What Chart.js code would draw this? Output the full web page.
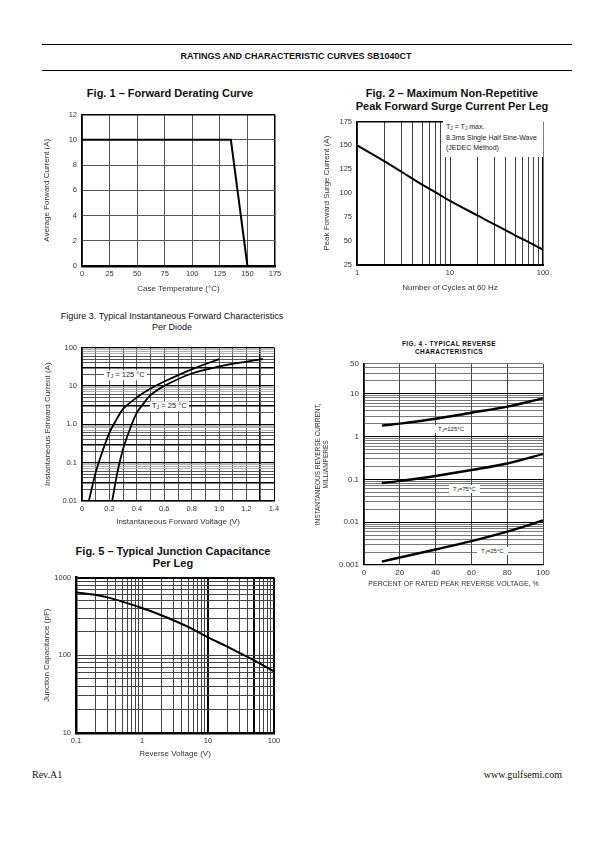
<!DOCTYPE html>
<html>
<head>
<meta charset="utf-8">
<script src="https://cdn.jsdelivr.net/npm/chart.js@4.4.1/dist/chart.umd.min.js"></script>
<style>
body { margin:0; width:595px; height:842px; background:#fff; position:relative; font-family:"Liberation Sans", Arial, sans-serif; color:#111; overflow:hidden; }
canvas { position:absolute; }
.c { position:absolute; white-space:nowrap; transform:translate(-50%,-50%); text-align:center; line-height:1; }
.hr { position:absolute; left:42px; width:530px; height:0; border-top:1.3px solid #000; }
.lab { position:absolute; white-space:nowrap; background:#fff; line-height:1; transform:translateY(-50%); color:#222; z-index:2; }
sub { font-size:70%; vertical-align:-1px; line-height:0; }
.foot { position:absolute; font-family:"Liberation Serif", "Times New Roman", serif; font-size:10px; top:769px; }
</style>
</head>
<body>
<div class="hr" style="top:44px"></div>
<div class="c" style="left:296px;top:56px;font-size:9px;font-weight:bold">RATINGS AND CHARACTERISTIC CURVES SB1040CT</div>
<div class="hr" style="top:70px"></div>

<div class="c" style="left:170px;top:93px;font-size:11px;font-weight:bold">Fig. 1 – Forward Derating Curve</div>
<div class="c" style="left:452px;top:93px;font-size:11px;font-weight:bold">Fig. 2 – Maximum Non-Repetitive</div>
<div class="c" style="left:452px;top:106px;font-size:11px;font-weight:bold">Peak Forward Surge Current Per Leg</div>
<div class="c" style="left:172px;top:316px;font-size:9px">Figure 3. Typical Instantaneous Forward Characteristics</div>
<div class="c" style="left:172px;top:327px;font-size:9px">Per Diode</div>
<div class="c" style="left:449px;top:344px;font-size:6.5px;font-weight:bold;letter-spacing:0.4px">FIG. 4 - TYPICAL REVERSE</div>
<div class="c" style="left:449px;top:352px;font-size:6.5px;font-weight:bold;letter-spacing:0.4px">CHARACTERISTICS</div>
<div class="c" style="left:173px;top:551px;font-size:11px;font-weight:bold">Fig. 5 – Typical Junction Capacitance</div>
<div class="c" style="left:173px;top:563px;font-size:11px;font-weight:bold">Per Leg</div>

<canvas id="fig1"></canvas>
<canvas id="fig2"></canvas>
<canvas id="fig3"></canvas>
<canvas id="fig4"></canvas>
<canvas id="fig5"></canvas>

<div class="lab" style="left:443px;top:120px;transform:none;width:97px;padding:2px 0 3px 3px;font-size:7px;line-height:10.5px">T<sub>J</sub> = T<sub>J</sub> max.<br>8.3ms Single Half Sine-Wave<br>(JEDEC Method)</div>
<div class="lab" style="left:104px;top:375px;font-size:7.5px;padding:1px 2px">T<sub>J</sub> = 125 °C</div>
<div class="lab" style="left:150px;top:406px;font-size:7.5px;padding:1px 2px">T<sub>J</sub> = 25 °C</div>
<div class="lab" style="left:434px;top:429px;font-size:6px;padding:1px 4px">T<sub>J</sub>=125°C</div>
<div class="lab" style="left:449px;top:489px;font-size:6px;padding:1px 4px">T<sub>J</sub>=75°C</div>
<div class="lab" style="left:477px;top:551px;font-size:6px;padding:1px 4px">T<sub>J</sub>=25°C</div>

<div class="foot" style="left:32px">Rev.A1</div>
<div class="foot" style="right:33px">www.gulfsemi.com</div>

<script>
// Fig 1 - derating
const fig1Temp = [0, 135, 150];
const fig1Current = [10, 10, 0];

// Fig 2 - surge current vs cycles
const fig2Cycles = [1, 2, 3, 5, 7, 10, 20, 30, 50, 70, 100];
const fig2Surge = [150, 133, 122.5, 109, 101, 92, 76.5, 67.5, 56, 49, 41];
const fig2XTicks = [1, 2, 3, 4, 5, 6, 7, 8, 9, 10, 20, 30, 40, 50, 60, 70, 80, 90, 100];
const fig2XLabels = {1: '1', 10: '10', 100: '100'};

// Fig 3 - forward characteristics
const fig3V125 = [0.05, 0.1, 0.15, 0.2, 0.25, 0.3, 0.4, 0.5, 0.6, 0.8, 1.0];
const fig3I125 = [0.01, 0.055, 0.2, 0.6, 1.3, 2.5, 5, 8.5, 13, 27, 50];
const fig3V25 = [0.22, 0.26, 0.3, 0.35, 0.4, 0.45, 0.5, 0.6, 0.8, 1.0, 1.2, 1.32];
const fig3I25 = [0.01, 0.06, 0.23, 0.75, 2, 3.5, 5.8, 10, 21, 32, 43, 50];
const fig3XTicks = [0, 0.1, 0.2, 0.3, 0.4, 0.5, 0.6, 0.7, 0.8, 0.9, 1.0, 1.1, 1.2, 1.3, 1.4];
const fig3XLabels = {0: '0', 0.2: '0.2', 0.4: '0.4', 0.6: '0.6', 0.8: '0.8', 1: '1.0', 1.2: '1.2', 1.4: '1.4'};
const fig3YLabels = {0.01: '0.01', 0.1: '0.1', 1: '1.0', 10: '10', 100: '100'};

// Fig 4 - reverse characteristics
const fig4Pct = [10, 20, 40, 60, 80, 100];
const fig4I125 = [1.8, 2.0, 2.6, 3.6, 5.0, 7.8];
const fig4I75 = [0.082, 0.092, 0.12, 0.165, 0.235, 0.39];
const fig4I25 = [0.0012, 0.0015, 0.0023, 0.0036, 0.006, 0.011];
const fig4YLabels = {0.001: '0.001', 0.01: '0.01', 0.1: '0.1', 1: '1', 10: '10', 50: '50'};

// Fig 5 - junction capacitance
const fig5Volt = [0.1, 0.2, 0.3, 0.5, 1, 2, 3, 5, 10, 20, 30, 50, 100];
const fig5Cap = [640, 595, 555, 490, 405, 325, 282, 232, 170, 128, 107, 86, 62];
const fig5XLabels = {0.1: '0.1', 1: '1', 10: '10', 100: '100'};
const fig5YLabels = {10: '10', 100: '100', 1000: '1000'};

// log ticks 1..9 per decade
function decades(from, to, extra) {
  const out = [];
  for (let e = from; e < to; e++) {
    for (let m = 1; m <= 9; m++) out.push(+(m * Math.pow(10, e)).toPrecision(3));
  }
  out.push(Math.pow(10, to));
  return extra ? out.concat(extra) : out;
}

Chart.defaults.font.family = '"Liberation Sans", Arial, sans-serif';
Chart.defaults.font.size = 7.5;
Chart.defaults.color = '#333';

function pts(xs, ys) { return xs.map((x, i) => ({x: x, y: ys[i]})); }
function fixTicks(vals) { return s => { s.ticks = vals.map(v => ({value: v})); }; }
function isDecade(v) { const l = Math.log10(v); return Math.abs(l - Math.round(l)) < 1e-6; }
function mant(v) { return Math.round(v / Math.pow(10, Math.floor(Math.log10(v) + 1e-9))); }

function curve(xs, ys, w) {
  return { data: pts(xs, ys), borderColor: '#000', borderWidth: w || 2, pointRadius: 0, fill: false, tension: 0.35 };
}

function plot(id, box, datasets, xs, ys) {
  const cv = document.getElementById(id);
  const w = box.yW + box.pw + box.pr, h = box.pt + box.ph + box.xH;
  cv.width = w; cv.height = h;
  cv.style.left = (box.l - box.yW) + 'px';
  cv.style.top = (box.t - box.pt) + 'px';
  cv.style.width = w + 'px';
  cv.style.height = h + 'px';
  xs.afterFit = s => { s.height = box.xH; };
  ys.afterFit = s => { s.width = box.yW; };
  xs.ticks = Object.assign({autoSkip: false, maxRotation: 0, minRotation: 0, padding: 3}, xs.ticks);
  ys.ticks = Object.assign({autoSkip: false, padding: 5}, ys.ticks);
  return new Chart(cv, {
    type: 'line',
    data: { datasets: datasets },
    options: {
      responsive: false,
      animation: false,
      layout: { padding: { top: box.pt, right: box.pr, left: 0, bottom: 0 } },
      plugins: { legend: { display: false }, tooltip: { enabled: false } },
      scales: { x: xs, y: ys }
    }
  });
}

const axisTitleFont = { size: 8 };

// Fig 1
plot('fig1', {l: 82, t: 111, pw: 193, ph: 155, yW: 44, xH: 32, pt: 6, pr: 14},
  [Object.assign(curve(fig1Temp, fig1Current, 2), {tension: 0})],
  { type: 'linear', min: 0, max: 175,
    ticks: { stepSize: 25 },
    grid: { drawTicks: false, color: c => c.tick && c.tick.value === 175 ? '#000' : '#555', lineWidth: c => c.tick && c.tick.value === 175 ? 1.5 : 1 },
    border: { color: '#000', width: 2.5 },
    title: { display: true, text: 'Case Temperature (°C)', font: axisTitleFont, color: '#333' } },
  { type: 'linear', min: 0, max: 12,
    ticks: { stepSize: 2 },
    grid: { drawTicks: false, color: c => c.tick && c.tick.value === 12 ? '#000' : '#555', lineWidth: c => c.tick && c.tick.value === 12 ? 1.5 : 1 },
    border: { color: '#000', width: 1.5 },
    title: { display: true, text: 'Average Forward Current (A)', font: axisTitleFont, color: '#333' } });

// Fig 2
plot('fig2', {l: 357, t: 118, pw: 186, ph: 147, yW: 39, xH: 32, pt: 6, pr: 14},
  [curve(fig2Cycles, fig2Surge, 2)],
  { type: 'logarithmic', min: 1, max: 100, afterBuildTicks: fixTicks(fig2XTicks),
    ticks: { callback: v => fig2XLabels[v] || '' },
    grid: { drawTicks: false, color: c => c.tick && c.tick.value === 100 ? '#000' : '#444', lineWidth: c => c.tick && c.tick.value === 100 ? 1.5 : 1 },
    border: { color: '#000', width: 2 },
    title: { display: true, text: 'Number of Cycles at 60 Hz', font: axisTitleFont, color: '#333' } },
  { type: 'linear', min: 25, max: 175,
    ticks: { stepSize: 25 },
    grid: { drawTicks: false, color: c => c.tick && c.tick.value === 175 ? '#000' : 'rgba(0,0,0,0)', lineWidth: 1.5 },
    border: { color: '#000', width: 1.5 },
    title: { display: true, text: 'Peak Forward Surge Current (A)', font: axisTitleFont, color: '#333' } });

// Fig 3
plot('fig3', {l: 82, t: 344, pw: 192, ph: 157, yW: 43, xH: 30, pt: 6, pr: 14},
  [curve(fig3V125, fig3I125, 1.8), curve(fig3V25, fig3I25, 1.8)],
  { type: 'linear', min: 0, max: 1.4, afterBuildTicks: fixTicks(fig3XTicks),
    ticks: { callback: v => fig3XLabels[v] || '' },
    grid: { drawTicks: false, color: c => c.tick && (c.tick.value === 1.3 || c.tick.value === 1.4) ? '#000' : '#555', lineWidth: c => c.tick && c.tick.value === 1.3 ? 1.6 : 1 },
    border: { color: '#000', width: 1.5 },
    title: { display: true, text: 'Instantaneous Forward Voltage (V)', font: axisTitleFont, color: '#333' } },
  { type: 'logarithmic', min: 0.01, max: 100, afterBuildTicks: fixTicks(decades(-2, 2)),
    ticks: { callback: v => fig3YLabels[v] || '' },
    grid: { drawTicks: false,
      color: c => { if (!c.tick) return '#555'; const m = mant(c.tick.value); return (m === 1 || m === 3) ? '#000' : (m >= 7 ? '#aaa' : '#444'); },
      lineWidth: c => { if (!c.tick) return 1; const m = mant(c.tick.value); return m === 3 ? 1.5 : (m === 1 ? 1.2 : 0.9); } },
    border: { color: '#000', width: 1.5 },
    title: { display: true, text: 'Instantaneous Forward Current (A)', font: axisTitleFont, color: '#333' } });

// Fig 4
plot('fig4', {l: 364, t: 360, pw: 179, ph: 205, yW: 53, xH: 27, pt: 6, pr: 14},
  [curve(fig4Pct, fig4I125, 2.4), curve(fig4Pct, fig4I75, 2.4), curve(fig4Pct, fig4I25, 2.4)],
  { type: 'linear', min: 0, max: 100,
    ticks: { stepSize: 20, font: { size: 8 } },
    grid: { drawTicks: false, color: '#444', lineWidth: 1 },
    border: { color: '#000', width: 1.2 },
    title: { display: true, text: 'PERCENT OF RATED PEAK REVERSE VOLTAGE, %', font: { size: 7 }, color: '#333' } },
  { type: 'logarithmic', min: 0.001, max: 50, afterBuildTicks: fixTicks(decades(-3, 1, [20, 30, 40, 50])),
    ticks: { callback: v => fig4YLabels[v] || '', font: { size: 8 } },
    grid: { drawTicks: false, color: c => c.tick && isDecade(c.tick.value) ? '#000' : '#555', lineWidth: c => c.tick && isDecade(c.tick.value) ? 1.1 : 0.8 },
    border: { color: '#000', width: 1.2 },
    title: { display: true, text: ['INSTANTANEOUS REVERSE CURRENT,', 'MILLIAMPERES'], font: { size: 6.5, lineHeight: 1.1 }, color: '#333' } });

// Fig 5
plot('fig5', {l: 76, t: 574, pw: 198, ph: 159, yW: 38, xH: 30, pt: 6, pr: 14},
  [curve(fig5Volt, fig5Cap, 2)],
  { type: 'logarithmic', min: 0.1, max: 100, afterBuildTicks: fixTicks(decades(-1, 2)),
    ticks: { callback: v => fig5XLabels[v] || '' },
    grid: { drawTicks: false,
      color: c => c.tick && (c.tick.value === 10 || c.tick.value === 50 || c.tick.value === 100) ? '#000' : '#444',
      lineWidth: c => c.tick && (c.tick.value === 10 || c.tick.value === 50 || c.tick.value === 100) ? 2 : 1 },
    border: { color: '#000', width: 2.5 },
    title: { display: true, text: 'Reverse Voltage (V)', font: axisTitleFont, color: '#333' } },
  { type: 'logarithmic', min: 10, max: 1000, afterBuildTicks: fixTicks(decades(1, 3)),
    ticks: { callback: v => fig5YLabels[v] || '' },
    grid: { drawTicks: false, color: c => c.tick && c.tick.value === 1000 ? '#000' : '#444', lineWidth: c => c.tick && c.tick.value === 1000 ? 2 : 1 },
    border: { color: '#000', width: 2.5 },
    title: { display: true, text: 'Junction Capacitance (pF)', font: axisTitleFont, color: '#333' } });
</script>
</body>
</html>
